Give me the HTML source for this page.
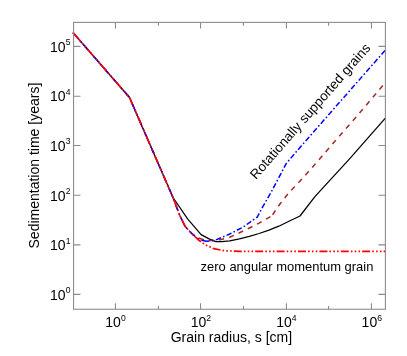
<!DOCTYPE html>
<html><head><meta charset="utf-8">
<style>
html,body{margin:0;padding:0;background:#fff;}
svg{display:block;will-change:transform;opacity:0.9999;}
text{font-family:"Liberation Sans",sans-serif;fill:#000;}
.t{font-size:14px;}
.s{font-size:8.6px;}
.l{font-size:14px;}
.a{font-size:12.96px;}
</style></head><body>
<svg width="407" height="356" viewBox="0 0 407 356">
<rect width="407" height="356" fill="#fff"/>
<!-- curves -->
<g fill="none" stroke-width="1.4" stroke-linejoin="round">
<path id="black" stroke="#000" stroke-width="1.25" d="M73,32.6 L129.5,97.5 L173,197.5 L187.6,218.8 L201.1,234.6 L209,238.9 L215.9,241.6 L221.8,241.7 L229.7,240.8 L239.5,238.8 L249.3,236.4 L259.1,233.5 L269,230.1 L278.8,226.2 L290,220.8 L300,216 L314.9,196.7 L350,158.3 L385.8,117.7"/>
<path id="brown" stroke="#a52a2a" stroke-width="1.55" stroke-dasharray="5.1 5.2" stroke-dashoffset="2.34" d="M73,32.6 L129.5,97.5 L173,197.5 L179.7,215.4 L185.3,226.6 L191,232.8 L195.5,236.3 L200.6,238.8 L206.5,240.4 L215.4,240.9 L229.7,237.3 L247.3,229.1 L259.1,223.1 L271.8,215.9"/>
<path stroke="#a52a2a" stroke-width="1.55" stroke-dasharray="5.1 5.2" stroke-dashoffset="8.90" d="M271.8,215.9 L280.1,203.8 L289.6,191.9 L302,178.9 L315.5,163.8 L330,146.9 L354.6,118.8 L382.8,85.6"/>
<path id="blue" stroke="#00f" stroke-width="1.5" stroke-dasharray="8 3 1.5 3" d="M73,32.6 L129.5,97.5 L173,197.5 L179.7,215.4 L185.3,226.6 L191,232.8 L195.3,236.6 L200.6,240 L206.5,241.3 L215.4,240.1"/>
<path stroke="#00f" stroke-width="1.5" stroke-dasharray="5.4 2.25 1.6 2.25" stroke-dashoffset="10.87" d="M215.4,240.1 L229.7,234 L243.4,226.9 L257.4,216.9 L262.7,206.8 L270.7,193 L286.2,163.6 L302.6,144.4 L385,50.5"/>
<path id="red" stroke="#f00" stroke-width="1.7" stroke-dasharray="8 2.1 1.6 2.2 1.6 2.2 1.6 2.1" stroke-dashoffset="0" d="M73,32.6 L129.5,97.5 L173,197.5"/>
<path stroke="#f00" stroke-width="1.7" stroke-dasharray="8 2.1 1.6 2.2 1.6 2.2 1.6 2.1" stroke-dashoffset="18.70" d="M173,197.5 L179.7,215.4 L185.3,226.6 L191,232.8 L195,236.7 L199.2,240.5 L203,243.3 L206.7,245.4 L213.9,248.7 L224.2,250.7 L240,251.3 L385.6,251.4"/>
</g>
<!-- axes -->
<g stroke="#8c8c8c" stroke-width="1.1" fill="none">
<rect x="73.55" y="22.40" width="311.85" height="286.85"/>
<path d="M115.45,309.25 v-6 M115.45,22.40 v6 M200.55,309.25 v-6 M200.55,22.40 v6 M286.45,309.25 v-6 M286.45,22.40 v6 M371.45,309.25 v-6 M371.45,22.40 v6"/>
<path d="M158.45,309.25 v-3.3 M158.45,22.40 v3.3 M243.45,309.25 v-3.3 M243.45,22.40 v3.3 M328.55,309.25 v-3.3 M328.55,22.40 v3.3"/>
<path d="M73.55,46.40 h6.9 M385.40,46.40 h-6.9 M73.55,96.22 h6.9 M385.40,96.22 h-6.9 M73.55,145.55 h6.9 M385.40,145.55 h-6.9 M73.55,195.30 h6.9 M385.40,195.30 h-6.9 M73.55,244.85 h6.9 M385.40,244.85 h-6.9 M73.55,294.40 h6.9 M385.40,294.40 h-6.9"/>
</g>
<!-- y tick labels -->
<g>
<text class="t" x="65.6" y="51.8" text-anchor="end">10</text><text class="s" x="65.7" y="45.2">5</text>
<text class="t" x="65.6" y="101.4" text-anchor="end">10</text><text class="s" x="65.7" y="94.8">4</text>
<text class="t" x="65.6" y="151.0" text-anchor="end">10</text><text class="s" x="65.7" y="144.4">3</text>
<text class="t" x="65.6" y="200.6" text-anchor="end">10</text><text class="s" x="65.7" y="194.0">2</text>
<text class="t" x="65.6" y="250.2" text-anchor="end">10</text><text class="s" x="65.7" y="243.6">1</text>
<text class="t" x="65.6" y="299.8" text-anchor="end">10</text><text class="s" x="65.7" y="293.2">0</text>
</g>
<!-- x tick labels -->
<g>
<text class="t" x="105.3" y="327">10</text><text class="s" x="120.97" y="320.8">0</text>
<text class="t" x="190.7" y="327">10</text><text class="s" x="206.37" y="320.8">2</text>
<text class="t" x="276.2" y="327">10</text><text class="s" x="291.87" y="320.8">4</text>
<text class="t" x="361.6" y="327">10</text><text class="s" x="377.27" y="320.8">6</text>
</g>
<text class="l" x="231.4" y="342.4" text-anchor="middle">Grain radius, s [cm]</text>
<text class="l" transform="translate(38.7,165.6) rotate(-90)" text-anchor="middle">Sedimentation time [years]</text>
<text class="a" x="200.6" y="271.1">zero angular momentum grain</text>
<text class="a" style="font-size:13.5px" transform="translate(256,180) rotate(-48.8)">Rotationally supported grains</text>
</svg>
</body></html>
